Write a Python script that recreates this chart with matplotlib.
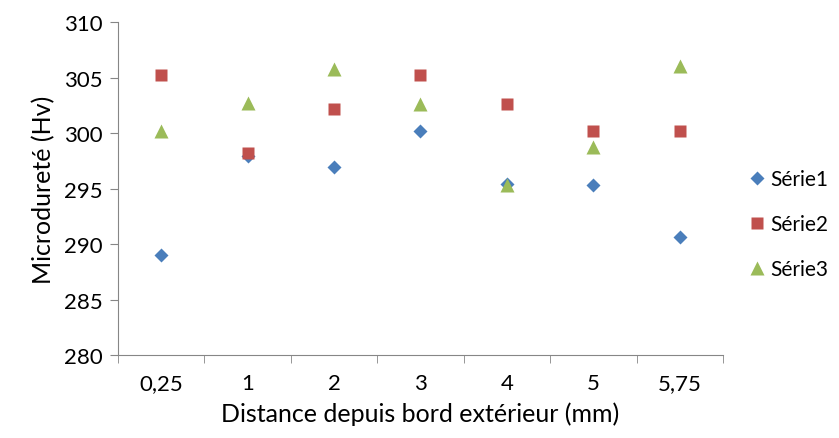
import numpy as np
import matplotlib.pyplot as plt

plt.rcParams['font.family'] = ['Lato', 'DejaVu Sans']

categories = ['0,25', '1', '2', '3', '4', '5', '5,75']
serie1 = [289.0, 297.9, 296.9, 300.2, 295.4, 295.3, 290.6]
serie2 = [305.2, 298.2, 302.2, 305.2, 302.6, 300.2, 300.2]
serie3 = [300.2, 302.7, 305.8, 302.6, 295.3, 298.7, 306.0]

x = np.arange(len(categories))

fig = plt.figure(figsize=(8.39, 4.39), dpi=100)
ax = fig.add_axes([0.1406, 0.189, 0.7211, 0.7586])

ax.plot(x, serie1, 'D', color='#4A7EBB', ms=7.5, mec='none', label='Série1')
ax.plot(x, serie2, 's', color='#C0504D', ms=9, mec='none', label='Série2')
ax.plot(x, serie3, '^', color='#9BBB59', ms=10, mec='none', label='Série3')

ax.set_xlim(-0.5, len(categories) - 0.5)
ax.set_ylim(280, 310)
ax.set_yticks(np.arange(280, 311, 5))
ax.set_xticks(x)
ax.set_xticklabels(categories)
ax.set_xticks(np.arange(-0.5, len(categories), 1), minor=True)
ax.tick_params(axis='x', which='major', length=0, pad=13, labelsize=16)
ax.tick_params(axis='x', which='minor', length=6, color='#868686')
ax.tick_params(axis='y', length=6, color='#868686', labelsize=16, pad=5)

for s in ['top', 'right']:
    ax.spines[s].set_visible(False)
for s in ['left', 'bottom']:
    ax.spines[s].set_color('#868686')

ax.set_xlabel('Distance depuis bord extérieur (mm)', fontsize=18, labelpad=6)
ax.set_ylabel('Microdureté (Hv)', fontsize=18, labelpad=6)

fig.legend(loc='center left', bbox_to_anchor=(0.886, 0.487), frameon=False,
           fontsize=15, handletextpad=0.2, labelspacing=1.2, handlelength=0.9,
           borderpad=0.2, borderaxespad=0)

plt.savefig('out.png', dpi=100)
